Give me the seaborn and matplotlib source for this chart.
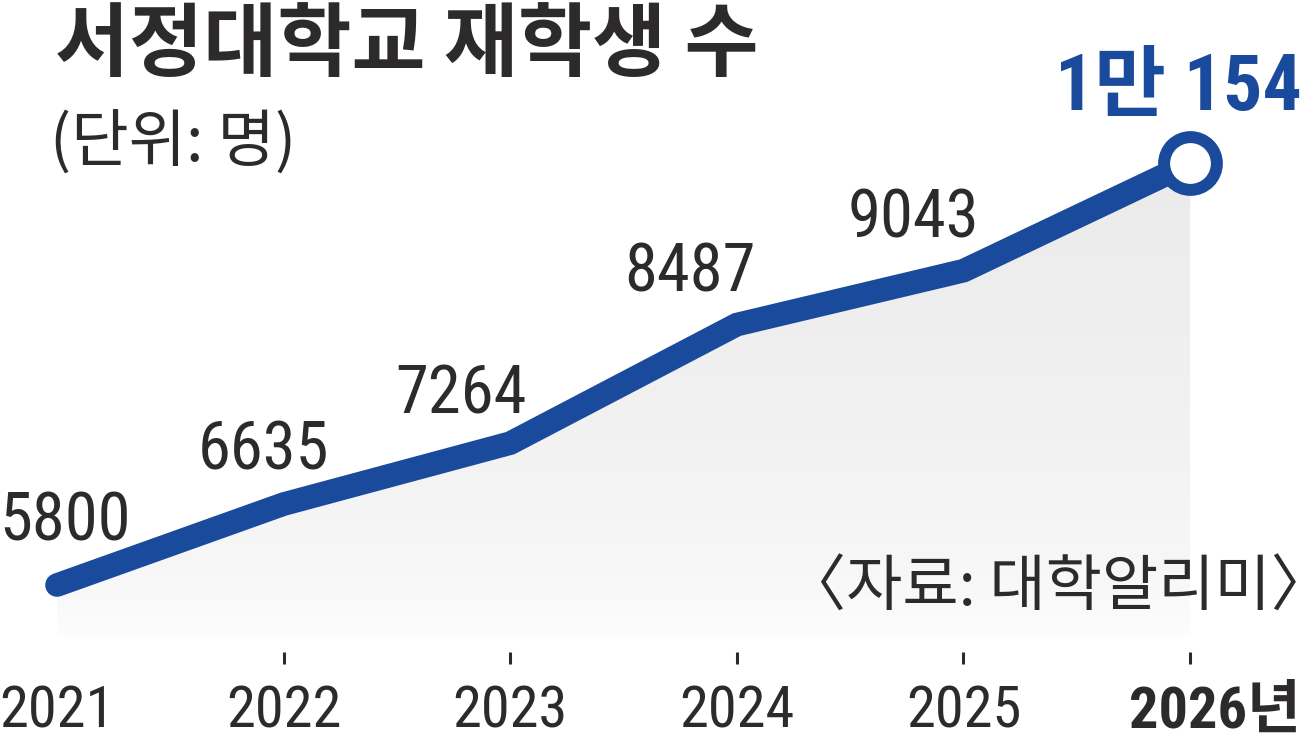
import numpy as np
import matplotlib
matplotlib.use('Agg')
import matplotlib.pyplot as plt
from matplotlib import font_manager as fm
from matplotlib.transforms import ScaledTranslation
import seaborn as sns
import pandas as pd

# ---- data ----
years = [2021, 2022, 2023, 2024, 2025, 2026]
students = [5800, 6635, 7264, 8487, 9043, 10154]
tick_labels = ['2021', '2022', '2023', '2024', '2025', '2026년']
title = '서정대학교 재학생 수'
unit = '(단위: 명)'
source = '〈자료: 대학알리미〉'

label_dx = [8, -20, -49, -47, -50, -12]
label_dy = [45, 35, 30, 33, 33, 53]

BLUE = '#1a4a9b'
TEXT = '#2d2a2b'

sns.set_theme(style='white')

names = {f.name for f in fm.fontManager.ttflist}
NARROW = next((n for n in ['Nimbus Sans Narrow', 'Liberation Sans Narrow', 'Arial Narrow',
                           'Roboto Condensed', 'Archivo Narrow', 'PT Sans Narrow',
                           'Barlow Condensed'] if n in names), 'DejaVu Sans')
NUM = [NARROW, 'Noto Sans CJK KR', 'DejaVu Sans']
CJK = ['Noto Sans CJK KR', 'DejaVu Sans']
plt.rcParams['font.family'] = NUM

W, H = 1302, 743
fig = plt.figure(figsize=(W / 100, H / 100), dpi=100)
ax = fig.add_axes([0, 91 / H, 1, 652 / H])

df = pd.DataFrame({'year': years, 'students': students})
base = 5233

# gradient area fill
poly = ax.fill_between(years, students, base, facecolor='none', edgecolor='none')
n = 256
t_down = 1 - np.linspace(0, 1, n)
g = (255 - 20 * np.sqrt(1 - t_down)) / 255.0
img = np.dstack([g, g, g]).reshape(n, 1, 3)
im = ax.imshow(img, extent=[years[0], years[-1], base, max(students)], origin='lower',
               aspect='auto', zorder=1, interpolation='bilinear')
im.set_clip_path(poly.get_paths()[0], transform=ax.transData)

# line
sns.lineplot(data=df, x='year', y='students', ax=ax, color=BLUE, linewidth=17, zorder=3)
ln = ax.lines[-1]
ln.set_solid_capstyle('round')
ln.set_solid_joinstyle('miter')

# end marker
sns.scatterplot(x=[years[-1]], y=[students[-1]], ax=ax, s=38 ** 2, color='white',
                edgecolor=BLUE, linewidth=8.6, zorder=4)

ax.set_xlim(2020.7485, 2026.494)
ax.set_ylim(5109, 11836)

# value labels
for i, (x, v) in enumerate(zip(years, students)):
    if i == len(years) - 1:
        txt = f"{v // 10000}만 {v % 10000}"
        ax.annotate(txt, (x, v), xytext=(label_dx[i] * 0.72, label_dy[i] * 0.72),
                    textcoords='offset points', ha='center', va='baseline',
                    fontsize=56, fontweight='bold', color=BLUE, zorder=5)
    else:
        ax.annotate(str(v), (x, v), xytext=(label_dx[i] * 0.72, label_dy[i] * 0.72),
                    textcoords='offset points', ha='center', va='baseline',
                    fontsize=48, color=TEXT, zorder=5)

# axes styling
ax.set_xticks(years)
ax.set_xticklabels(tick_labels)
ax.set_yticks([])
ax.set_xlabel('')
ax.set_ylabel('')
ax.tick_params(axis='x', bottom=True, length=8.6, width=2.2, color=TEXT, direction='out',
               pad=15, labelsize=42, labelcolor=TEXT)
ax.xaxis.get_major_ticks()[0].tick1line.set_visible(False)
last = ax.get_xticklabels()[-1]
last.set_fontweight('bold')
last.set_transform(last.get_transform() + ScaledTranslation(0.25, 0, fig.dpi_scale_trans))
sns.despine(ax=ax, left=True, bottom=True)
ax.set_facecolor('none')

# texts
fig.text(55 / W, 1 - 6 / H, title, fontsize=58, fontweight='bold', family=CJK,
         color=TEXT, ha='left', va='top')
fig.text(50 / W, 1 - 111 / H, unit, fontsize=45, fontweight='light', family=CJK,
         color=TEXT, ha='left', va='top')
fig.text(1332 / W, 1 - 556 / H, source, fontsize=44, fontweight='light', family=CJK,
         color=TEXT, ha='right', va='top', zorder=6)

fig.savefig('out.png', dpi=100, facecolor='white')
